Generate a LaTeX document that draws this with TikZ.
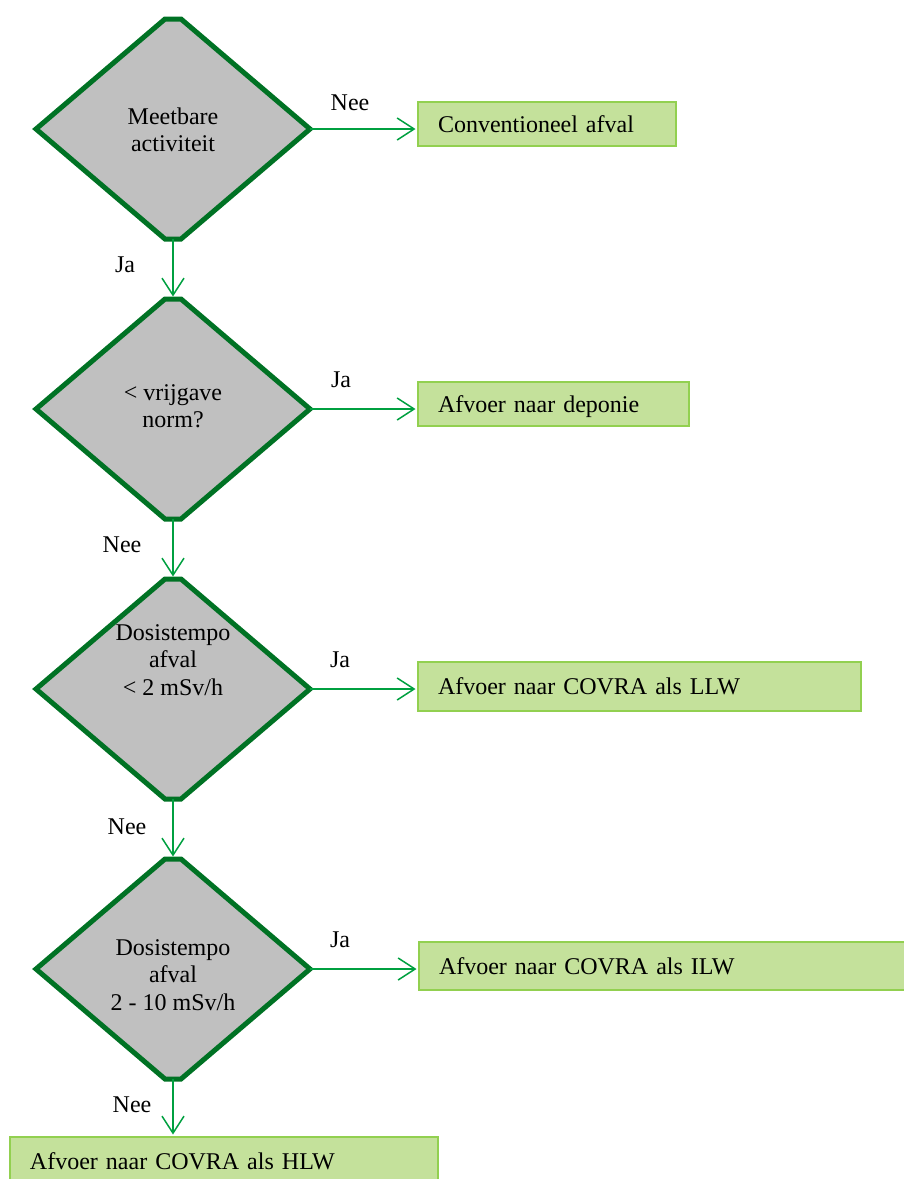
\documentclass[tikz,border=0pt]{standalone}
\usepackage{fontspec}
\setmainfont{Liberation Serif}
\usetikzlibrary{arrows.meta,calc,shapes.geometric}
\definecolor{dgreen}{RGB}{0,114,36}
\definecolor{agreen}{RGB}{0,160,64}
\definecolor{bfill}{RGB}{196,225,155}
\definecolor{bdraw}{RGB}{146,208,80}
\definecolor{dfill}{RGB}{192,192,192}
\begin{document}
\begin{tikzpicture}[x=1pt,y=-1pt,
  dshape/.style={diamond, draw=none, minimum width=274pt, minimum height=220pt, inner sep=0pt, outer sep=0pt},
  doutline/.style={draw=dgreen, fill=dfill, line width=5pt, line join=miter},
  dtext/.style={align=center, font=\fontsize{24}{27.5}\selectfont, inner sep=0pt},
  box/.style={draw=bdraw, fill=bfill, line width=1.8pt, anchor=north west, inner xsep=20pt, inner ysep=0pt, outer sep=0pt, align=left, font=\fontsize{24}{27.5}\selectfont, text height=20pt, text depth=4pt},
  lbl/.style={font=\fontsize{24}{27.5}\selectfont, inner sep=0pt},
  arr/.style={draw=agreen, line width=1.5pt, -{Straight Barb[length=17pt,width=22pt,line width=1.5pt]}, shorten >=2.5pt},
]
\useasboundingbox (0,0) rectangle (904,1179);
\clip (0,0) rectangle (904,1179);

% diamonds
\node[dshape] (d1) at (173,129) {};
\node[dshape] (d2) at (173,409) {};
\node[dshape] (d3) at (173,689) {};
\node[dshape] (d4) at (173,969) {};
\foreach \d in {d1,d2,d3,d4}{
  \path[doutline] (\d.west) -- ($(\d.north)+(-8,0)$) -- ($(\d.north)+(8,0)$) -- (\d.east)
    -- ($(\d.south)+(8,0)$) -- ($(\d.south)+(-8,0)$) -- cycle;
}
\node[dtext] (t1) at (173,130) {Meetbare\\activiteit};
\node[dtext] (t2) at (173,406) {< vrijgave\\norm?};
\node[dtext] (t3) at (173,660) {Dosistempo\\afval\\< 2 mSv/h};
\node[dtext] (t4) at (173,975) {Dosistempo\\afval\\2 - 10 mSv/h};

% boxes
\node[box, text width=218pt, minimum height=44pt] (b1) at (418,102) {Conventioneel afval};
\node[box, text width=231pt, minimum height=44pt] (b2) at (418,382) {Afvoer naar deponie};
\node[box, text width=403pt, minimum height=49pt] (b3) at (418,662) {Afvoer naar COVRA als LLW};
\node[box, text width=448pt, minimum height=48pt] (b4) at (419,942) {Afvoer naar COVRA als ILW};
\node[box, text width=388pt, minimum height=48pt] (b5) at (10,1137) {Afvoer naar COVRA als HLW};

% connectors
\draw[arr] (d1.east) -- (d1.east -| b1.west);
\draw[arr] (d2.east) -- (d2.east -| b2.west);
\draw[arr] (d3.east) -- (d3.east -| b3.west);
\draw[arr] (d4.east) -- (d4.east -| b4.west);
\draw[arr] (d1.south) -- (d2.north);
\draw[arr] (d2.south) -- (d3.north);
\draw[arr] (d3.south) -- (d4.north);
\draw[arr] (d4.south) -- (d4.south |- b5.north);

% labels
\node[lbl] (l1) at (350,103) {Nee};
\node[lbl] (l2) at (125,265) {Ja};
\node[lbl] (l3) at (341,380) {Ja};
\node[lbl] (l4) at (122,545) {Nee};
\node[lbl] (l5) at (340,660) {Ja};
\node[lbl] (l6) at (127,827) {Nee};
\node[lbl] (l7) at (340,940) {Ja};
\node[lbl] (l8) at (132,1105) {Nee};
\end{tikzpicture}
\end{document}
